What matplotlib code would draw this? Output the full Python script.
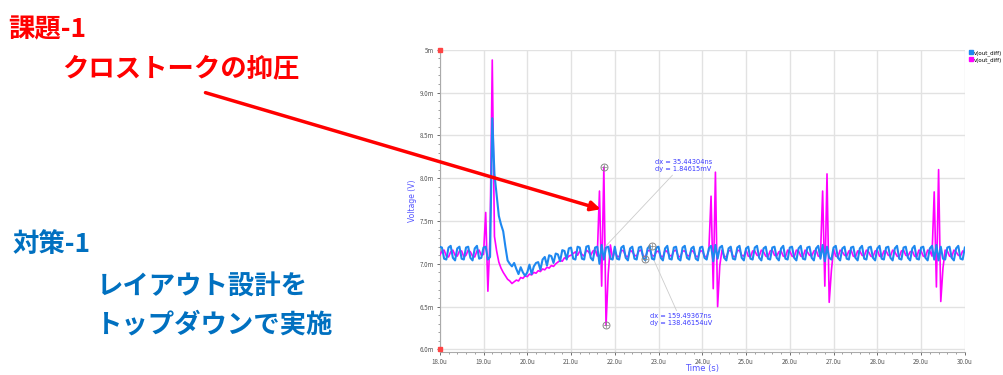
import numpy as np
import matplotlib
matplotlib.use("Agg")
import matplotlib.pyplot as plt
from matplotlib.lines import Line2D
from matplotlib.patches import FancyArrowPatch

plt.rcParams['font.family'] = ['Noto Sans CJK JP', 'DejaVu Sans']

# sampled every 0.05 us, 18.00 .. 30.00 us ; values in mV
blue_rows = [
    [7.20,7.19,7.06,7.05, 7.19,7.21,7.07,7.04, 7.18,7.20,7.06,7.05, 7.19,7.20,7.07,7.04, 7.18,7.21,7.06,7.07],
    [7.19,7.20,7.05,7.08, 8.70,8.05,7.80,7.56, 7.46,7.38,7.20,7.04, 7.00,6.97,7.01,6.94, 6.88,6.96,6.90,6.86],
    [6.90,6.99,6.88,6.97, 7.01,7.02,6.93,7.05, 7.08,6.98,7.10,7.09, 7.01,7.12,7.11,7.03, 7.16,7.15,7.05,7.18],
    [7.19,7.06,7.05,7.20, 7.19,7.06,7.05,7.20, 7.21,7.07,7.04,7.19, 7.20,7.00,7.22,7.05, 7.19,7.20,7.06,7.05],
    [7.20,7.06,7.05,7.19, 7.21,7.07,7.04,7.18, 7.20,7.06,7.05,7.19, 7.20,7.07,7.04,7.18, 7.21,7.06,7.05,7.19],
    [7.20,7.07,7.04,7.18, 7.21,7.06,7.05,7.19, 7.20,7.06,7.04,7.19, 7.21,7.07,7.05,7.18, 7.20,7.06,7.04,7.19],
    [7.20,7.07,7.05,7.18, 7.21,7.03,7.22,7.06, 7.19,7.21,7.07,7.04, 7.18,7.20,7.06,7.05, 7.19,7.21,7.07,7.04],
    [7.18,7.20,7.06,7.05, 7.19,7.21,7.07,7.04, 7.18,7.20,7.06,7.05, 7.19,7.20,7.07,7.04, 7.18,7.21,7.06,7.05],
    [7.19,7.20,7.07,7.04, 7.18,7.21,7.06,7.05, 7.19,7.20,7.07,7.04, 7.18,7.21,7.06,7.22, 7.03,7.20,7.07,7.05],
    [7.19,7.21,7.07,7.04, 7.18,7.20,7.06,7.05, 7.19,7.20,7.07,7.04, 7.18,7.21,7.06,7.05, 7.19,7.20,7.07,7.04],
    [7.18,7.21,7.06,7.05, 7.19,7.20,7.07,7.04, 7.18,7.21,7.06,7.05, 7.19,7.20,7.07,7.04, 7.18,7.21,7.06,7.05],
    [7.19,7.20,7.07,7.04, 7.18,7.21,7.05,7.22, 7.04,7.20,7.06,7.05, 7.19,7.20,7.07,7.04, 7.18,7.21,7.06,7.05],
    [7.19],
]
magenta_rows = [
    [7.10,7.15,7.16,7.09, 7.08,7.14,7.16,7.10, 7.09,7.15,7.15,7.08, 7.10,7.16,7.14,7.09, 7.08,7.15,7.16,7.10],
    [7.11,7.60,6.68,7.33, 9.38,7.32,7.15,7.02, 6.95,6.90,6.86,6.82, 6.80,6.77,6.79,6.81, 6.80,6.84,6.83,6.86],
    [6.85,6.88,6.87,6.90, 6.89,6.92,6.91,6.94, 6.93,6.96,6.95,6.98, 6.97,7.00,7.02,7.04, 7.03,7.07,7.06,7.09],
    [7.10,7.12,7.14,7.10, 7.15,7.11,7.09,7.16, 7.14,7.10,7.15,7.16, 7.09,7.85,6.74,8.13, 6.28,6.88,7.22,7.06],
    [7.15,7.09,7.08,7.16, 7.15,7.09,7.08,7.16, 7.14,7.10,7.09,7.15, 7.16,7.09,7.08,7.15, 7.16,7.10,7.09,7.14],
    [7.15,7.09,7.08,7.16, 7.14,7.10,7.09,7.15, 7.16,7.09,7.08,7.15, 7.15,7.10,7.09,7.16, 7.14,7.09,7.08,7.15],
    [7.15,7.09,7.08,7.16, 7.79,6.71,8.07,6.50, 6.98,7.16,7.09,7.08, 7.15,7.16,7.09,7.08, 7.15,7.16,7.10,7.09],
    [7.16,7.09,7.08,7.15, 7.15,7.10,7.09,7.16, 7.14,7.09,7.08,7.15, 7.16,7.10,7.09,7.14, 7.15,7.09,7.08,7.16],
    [7.15,7.09,7.08,7.16, 7.15,7.09,7.08,7.16, 7.14,7.10,7.09,7.15, 7.16,7.09,7.08,7.85, 6.74,8.05,6.55,6.92],
    [7.17,7.09,7.08,7.16, 7.14,7.10,7.09,7.15, 7.16,7.09,7.08,7.15, 7.15,7.10,7.09,7.16, 7.14,7.09,7.08,7.15],
    [7.16,7.09,7.08,7.15, 7.15,7.10,7.09,7.16, 7.14,7.09,7.08,7.15, 7.16,7.10,7.09,7.14, 7.15,7.09,7.08,7.16],
    [7.15,7.09,7.08,7.16, 7.15,7.09,7.84,6.73, 8.10,6.56,6.95,7.16, 7.15,7.09,7.08,7.16, 7.14,7.10,7.09,7.15],
    [7.14],
]
blue_v = np.concatenate(blue_rows)
magenta_v = np.concatenate(magenta_rows)
time_us = np.linspace(18.0, 30.0, len(blue_v))

x_ticks = [18, 19, 20, 21, 22, 23, 24, 25, 26, 27, 28, 29, 30]
y_ticks = [6.0, 6.5, 7.0, 7.5, 8.0, 8.5, 9.0, 9.5]
y_ticklabels = ["6.0m", "6.5m", "7.0m", "7.5m", "8.0m", "8.5m", "9.0m", "5m"]

cursor_t = [21.75, 21.80, 22.85, 22.70]
cursor_v = [8.13, 6.28, 7.21, 7.06]
cursor_text1 = "dx = 35.44304ns\ndy = 1.84615mV"
cursor_text2 = "dx = 159.49367ns\ndy = 138.46154uV"

fig = plt.figure(figsize=(10.04, 3.75), dpi=100)
ax = fig.add_axes([0.438, 0.0613, 0.523, 0.806])

ax.plot(time_us, magenta_v, color="#ff00ff", linewidth=1.2, zorder=3)
ax.plot(time_us, blue_v, color="#1e88f0", linewidth=1.5, zorder=4)

ax.set_xlim(18, 30)
ax.set_ylim(5.97, 9.5)
ax.set_xticks(x_ticks)
ax.set_xticklabels([f"{x:.1f}u" for x in x_ticks])
ax.set_yticks(y_ticks)
ax.set_yticklabels(y_ticklabels)
ax.set_xticks(np.arange(18, 30.01, 0.2), minor=True)
ax.set_yticks(np.arange(6.0, 9.51, 0.1), minor=True)
ax.grid(True, which="major", color="#e2e2e2", linewidth=1.0, zorder=0)
ax.tick_params(labelsize=4.5, colors="#555555", length=2.5, width=0.6, pad=1.5)
ax.tick_params(which="minor", length=1.5, width=0.5, colors="#777777")
for s in ["top", "right"]:
    ax.spines[s].set_visible(False)
for s in ["left", "bottom"]:
    ax.spines[s].set_color("#aaaaaa")
    ax.spines[s].set_linewidth(0.8)

ax.set_xlabel("Time (s)", fontsize=6, color="#5555ff", labelpad=-1, family="DejaVu Sans")
ax.set_ylabel("Voltage (V)", fontsize=5.5, color="#5555ff", labelpad=2, family="DejaVu Sans")

# little red markers at the corners of the y range
ax.plot([18, 18], [9.5, 6.0], "s", color="#ff4444", markersize=3, clip_on=False, zorder=6)

# cursors
ax.plot(cursor_t, cursor_v, "o", markerfacecolor="none", markeredgecolor="#888888",
        markersize=5, markeredgewidth=0.7, zorder=6)
ax.plot(cursor_t, cursor_v, "+", color="#888888", markersize=5, markeredgewidth=0.5, zorder=6)
ax.annotate(cursor_text1, xy=(21.78, 7.2), xytext=(22.92, 8.22), fontsize=4.8, color="#3a3aff",
            va="top", family="DejaVu Sans",
            arrowprops=dict(arrowstyle="-", color="#cccccc", linewidth=0.6, shrinkA=0, shrinkB=0,
                            relpos=(0.35, 0)))
ax.annotate(cursor_text2, xy=(22.8, 7.15), xytext=(22.8, 6.42), fontsize=4.8, color="#3a3aff",
            va="top", family="DejaVu Sans",
            arrowprops=dict(arrowstyle="-", color="#cccccc", linewidth=0.6, shrinkA=0, shrinkB=0,
                            relpos=(0.45, 1)))

legend_handles = [
    Line2D([], [], marker="s", linestyle="none", color="#1e88f0", markersize=3.5),
    Line2D([], [], marker="s", linestyle="none", color="#ff00ff", markersize=3.5),
]
ax.legend(legend_handles, ["v(out_diff)", "v(out_diff)"], loc="upper left",
          bbox_to_anchor=(1.002, 1.01), frameon=False, handlelength=0.5,
          handletextpad=0.4, labelspacing=0.3, borderpad=0.1,
          prop={"family": "DejaVu Sans", "size": 4})

# slide text
red = "#ff0000"
blue = "#0070c0"
fig.text(0.008, 0.92, "課題-1", fontsize=19, color=red, weight="bold", va="center")
fig.text(0.062, 0.818, "クロストークの抑圧", fontsize=19, color=red, weight="bold", va="center")
fig.text(0.012, 0.349, "対策-1", fontsize=19, color=blue, weight="bold", va="center")
fig.text(0.096, 0.233, "レイアウト設計を", fontsize=19, color=blue, weight="bold", va="center")
fig.text(0.096, 0.133, "トップダウンで実施", fontsize=19, color=blue, weight="bold", va="center")

arrow = FancyArrowPatch((0.202, 0.755), (0.601, 0.44), transform=fig.transFigure,
                        arrowstyle="-|>", mutation_scale=14, color=red, linewidth=2.5)
fig.patches.append(arrow)

fig.savefig("out.png", dpi=100)
